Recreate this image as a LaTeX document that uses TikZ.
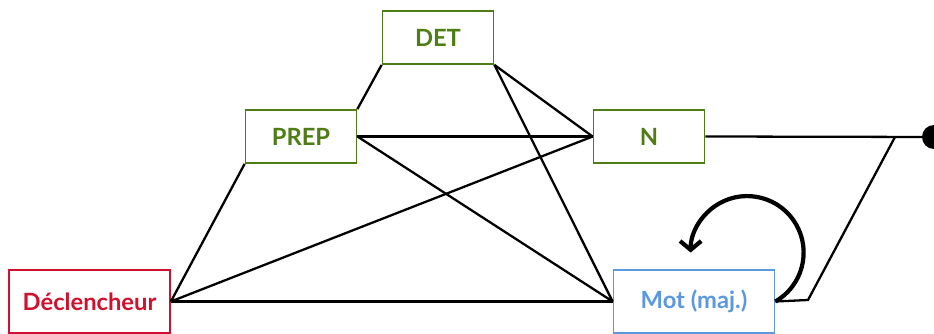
\documentclass[tikz,border=0pt]{standalone}
\usepackage{fontspec}
\setmainfont{Lato}
\usepackage{tikz}
\usetikzlibrary{arrows.meta}

\definecolor{catgreen}{RGB}{78,125,20}
\definecolor{trigred}{RGB}{208,16,44}
\definecolor{motblue}{RGB}{90,152,224}

\tikzset{
	cat/.style={draw=catgreen, line width=1pt, text=catgreen, minimum width=2.22cm, minimum height=1.06cm, font=\bfseries\fontsize{13.5}{16}\selectfont},
	trig/.style={cat, draw=trigred, text=trigred, minimum width=3.22cm, minimum height=1.26cm},
	mot/.style={trig, draw=motblue, text=motblue},
	lien/.style={line width=1.3pt},
	boucle/.style={line width=2.4pt, -{Straight Barb[length=5pt,width=12pt]}}
}

\begin{document}
\begin{tikzpicture} [>=latex]
	%%%	Cadre
	\useasboundingbox (0,0) rectangle (18.68,-6.68);
	%%%	Noeuds
	\node[cat] (det) at (8.76,-0.75) {DET};
	\node[cat] (prep) at (6.02,-2.73) {PREP};
	\node[cat] (n) at (12.98,-2.73) {N};
	\node[trig] (decl) at (1.79,-6.03) {Déclencheur};
	\node[mot] (mot) at (13.88,-6.03) {Mot (maj.)};
	\coordinate (fin) at (18.68,-2.74);
	\coordinate (coude) at (16.16,-6.0);
	\coordinate (jonction) at (17.9,-2.74);
	%%%	Liens
	\draw[lien] (det.south west) -- (prep.north east);
	\draw[lien] (det.south east) -- (n.west);
	\draw[lien] (det.south east) -- (mot.west);
	\draw[lien] (prep.east) -- (n.west);
	\draw[lien] (prep.east) -- (mot.west);
	\draw[lien] (prep.south west) -- (decl.east);
	\draw[lien] (decl.east) -- (n.west);
	\draw[lien] (decl.east) -- (mot.west);
	\draw[lien] (n.east) -- (fin);
	\draw[lien] (mot.east) -- (coude) -- (jonction);
	\fill (fin) circle (0.24);
	%%%	Boucle
	\draw[boucle] (mot.east) arc (-60:180:1.13);
\end{tikzpicture}
\end{document}
